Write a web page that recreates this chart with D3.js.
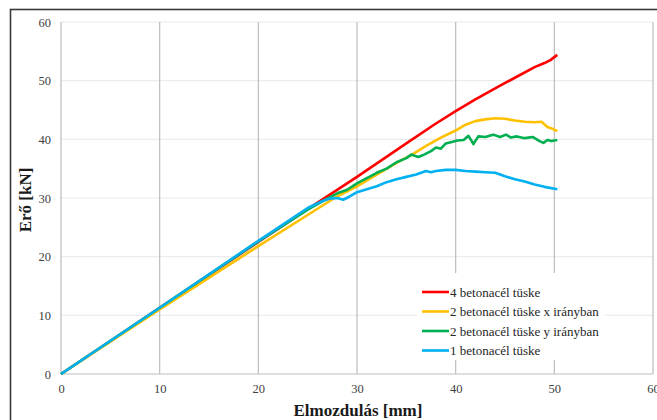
<!DOCTYPE html>
<meta charset="utf-8">
<style>
  body { margin: 0; background: #fff; }
</style>

<!-- Load d3.js -->
<script src="https://d3js.org/d3.v7.min.js"></script>

<!-- Create a div where the graph will take place -->
<div id="my_dataviz"></div>

<script>

// data: [displacement mm, force kN]
var tuske4 = [[0,0],[5,5.6],[10,11.3],[15,16.9],[20,22.5],[25,28.1],[30,33.6],[35,39.3],[38,42.7],
  [40,44.8],[42,46.8],[44,48.7],[46,50.5],[48,52.3],[49,53.0],[49.6,53.5],[50.3,54.4]]
var tuske2x = [[0,0],[10,11.0],[20,21.8],[25,27.1],[28,30.3],[30,32.0],[32,34.0],[34,36.0],[35.5,37.3],
  [37,38.9],[38.5,40.3],[40,41.5],[41,42.5],[42,43.1],[43,43.4],[44,43.6],[45,43.5],[46,43.2],
  [47,43.0],[48,42.9],[48.7,43.0],[49.3,42.1],[49.8,41.8],[50.3,41.4]]
var tuske2y = [[0,0],[10,11.3],[20,22.6],[25,28.0],[27,29.9],[28,30.8],[29,31.4],[30,32.5],[31,33.4],
  [32,34.3],[33,35.0],[34,36.1],[35,36.8],[35.5,37.4],[36.2,37.0],[36.8,37.4],[37.5,38.0],[38,38.6],
  [38.5,38.4],[39,39.3],[39.7,39.6],[40.2,39.8],[40.8,39.9],[41.3,40.6],[41.8,39.2],[42.3,40.5],
  [43,40.4],[43.8,40.8],[44.5,40.4],[45.1,40.8],[45.6,40.3],[46.2,40.5],[47,40.2],[47.8,40.4],
  [48.5,39.7],[48.9,39.4],[49.3,39.9],[49.7,39.7],[50.3,39.9]]
var tuske1 = [[0,0],[10,11.3],[20,22.7],[25,28.3],[26.5,29.5],[27.3,29.9],[28,30.0],[28.6,29.7],
  [29.3,30.3],[30,31.0],[31,31.5],[32,32.0],[33,32.7],[34,33.2],[35,33.6],[36,34.0],[37,34.6],
  [37.5,34.4],[38,34.6],[39,34.8],[40,34.8],[41,34.6],[42,34.5],[43,34.4],[44,34.3],[45,33.7],
  [46,33.2],[47,32.8],[48,32.3],[49,31.9],[50.3,31.5]]

var seriesNames = ["4 betonacél tüske", "2 betonacél tüske x irányban",
                   "2 betonacél tüske y irányban", "1 betonacél tüske"]
var seriesColors = ["#ff0000", "#ffc000", "#00b050", "#00b0f0"]
var seriesData = [tuske4, tuske2x, tuske2y, tuske1]

var xTicks = [0, 10, 20, 30, 40, 50, 60]
var yTicks = [0, 10, 20, 30, 40, 50, 60]

// set the dimensions of the graph
var W = 657, H = 420
var plot = {left: 61, right: 653, top: 22, bottom: 374}

var svg = d3.select("#my_dataviz")
  .append("svg")
    .attr("width", W)
    .attr("height", H)
    .style("font-family", "'Liberation Serif', 'Times New Roman', serif")

// outer frame
svg.append("rect")
  .attr("x", 10.5).attr("y", 9.5)
  .attr("width", W + 10).attr("height", H + 10)
  .attr("fill", "none")
  .attr("stroke", "#3a3a3a")
  .attr("stroke-width", 1.6)

var x = d3.scaleLinear().domain([0, 60]).range([plot.left, plot.right])
var y = d3.scaleLinear().domain([0, 60]).range([plot.bottom, plot.top])

// horizontal gridlines (light)
svg.selectAll("hgrid")
  .data(yTicks.filter(function(d){ return d > 0 }))
  .enter()
  .append("line")
    .attr("x1", plot.left).attr("x2", plot.right)
    .attr("y1", function(d){ return y(d) }).attr("y2", function(d){ return y(d) })
    .attr("stroke", "#ececec")
    .attr("stroke-width", 1.2)

// vertical gridlines
svg.selectAll("vgrid")
  .data(xTicks)
  .enter()
  .append("line")
    .attr("x1", function(d){ return x(d) }).attr("x2", function(d){ return x(d) })
    .attr("y1", plot.top).attr("y2", plot.bottom)
    .attr("stroke", "#bdbdbd")
    .attr("stroke-width", 1.2)

// bottom axis line
svg.append("line")
  .attr("x1", plot.left).attr("x2", plot.right)
  .attr("y1", plot.bottom).attr("y2", plot.bottom)
  .attr("stroke", "#bdbdbd")
  .attr("stroke-width", 1.2)

// legend background hides the gridlines behind it
svg.append("rect")
  .attr("x", 417).attr("y", 273)
  .attr("width", 188).attr("height", 87)
  .attr("fill", "#fff")

// axes with tick labels only
svg.append("g")
  .attr("transform", "translate(0," + plot.bottom + ")")
  .call(d3.axisBottom(x).tickValues(xTicks).tickSize(0).tickPadding(10))
svg.append("g")
  .attr("transform", "translate(" + plot.left + ",0)")
  .call(d3.axisLeft(y).tickValues(yTicks).tickSize(0).tickPadding(10))

svg.selectAll(".domain").remove()
svg.selectAll(".tick text")
  .attr("fill", "#404040")
  .attr("font-family", "'Liberation Serif', serif")
  .style("font-size", "12.5px")

// lines
var line = d3.line()
  .x(function(d){ return x(d[0]) })
  .y(function(d){ return y(d[1]) })

svg.selectAll("series")
  .data(seriesData)
  .enter()
  .append("path")
    .attr("d", line)
    .attr("fill", "none")
    .attr("stroke", function(d, i){ return seriesColors[i] })
    .attr("stroke-width", 2.6)
    .attr("stroke-linejoin", "round")

// legend
var legend = svg.append("g")
seriesNames.forEach(function(name, i) {
  var yy = 292 + i * 19.5
  legend.append("line")
    .attr("x1", 422).attr("x2", 449)
    .attr("y1", yy).attr("y2", yy)
    .attr("stroke", seriesColors[i])
    .attr("stroke-width", 2.6)
  legend.append("text")
    .attr("x", 450).attr("y", yy + 4.5)
    .attr("fill", "#262626")
    .style("font-size", "13px")
    .text(name)
})

// axis titles
svg.append("text")
  .attr("x", 358).attr("y", 416)
  .attr("text-anchor", "middle")
  .style("font-size", "17px")
  .style("font-weight", "bold")
  .attr("fill", "#1a1a1a")
  .text("Elmozdulás [mm]")

svg.append("text")
  .attr("transform", "translate(31,200) rotate(-90)")
  .attr("text-anchor", "middle")
  .style("font-size", "17px")
  .style("font-weight", "bold")
  .attr("fill", "#1a1a1a")
  .text("Erő [kN]")

</script>
